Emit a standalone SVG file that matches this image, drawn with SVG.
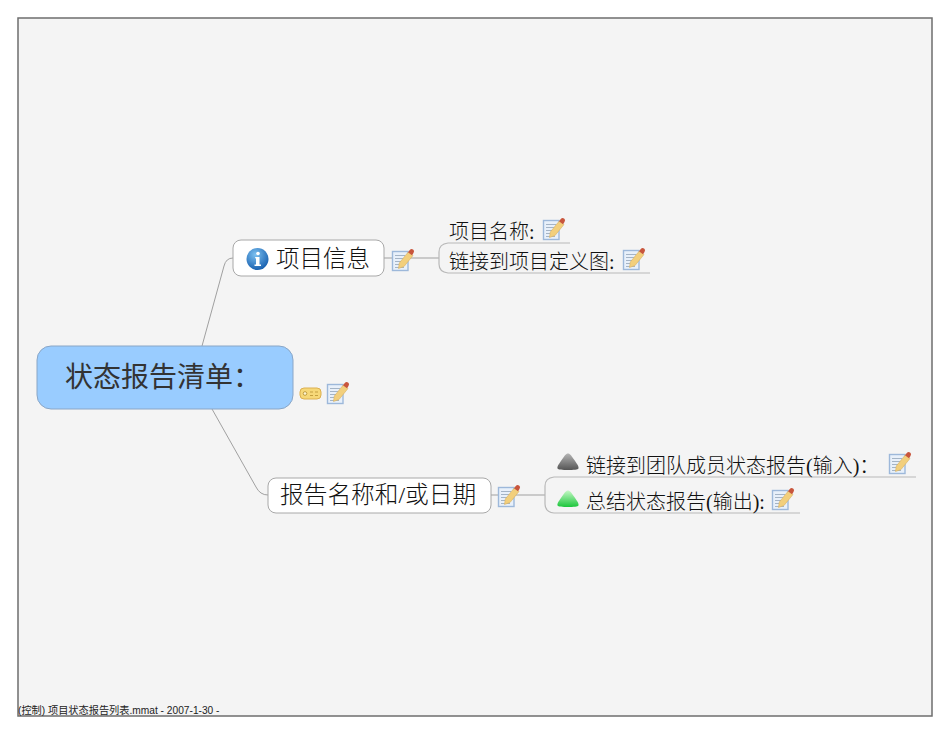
<svg xmlns="http://www.w3.org/2000/svg" width="950" height="735" viewBox="0 0 950 735">
<style>
.t{font-family:"Liberation Serif","Noto Sans CJK SC",serif;fill:#111;font-weight:300}
.box{fill:#fff;stroke:#a8a8a8;stroke-width:1}
.c{fill:none;stroke:#a0a0a0;stroke-width:1}
.u{fill:none;stroke:#b8b8b8;stroke-width:1.2}
</style>
<defs>
<linearGradient id="sg" x1="0" y1="0" x2="0" y2="1"><stop offset="0" stop-color="#b4b4b4"/><stop offset="1" stop-color="#555"/></linearGradient>
<linearGradient id="gg" x1="0" y1="0" x2="0" y2="1"><stop offset="0" stop-color="#c4f8c4"/><stop offset="1" stop-color="#1cc63c"/></linearGradient>
<radialGradient id="ig" cx="0.4" cy="0.3" r="0.8"><stop offset="0" stop-color="#7cc0f0"/><stop offset="1" stop-color="#0c55a8"/></radialGradient>
<g id="note">
<rect x="0.500" y="2.500" width="15.500" height="19" fill="#e8f0fa" stroke="#9db8da" stroke-width="1.400"/>
<path d="M3 6.500h10M3 9.500h10M3 12.500h6M3 15.500h4M3 18.500h9" stroke="#a4b4c6" stroke-width="1"/>
<path d="M6.500 19.500l.8-5.500 9-11 4.700 3.500-9 11z" fill="#f2cf7c" stroke="#d8b060" stroke-width="0.600"/>
<path d="M16 3.300l1.800-2.300a2.300 2.300 0 0 1 3.700 2.900l-1.500 2.400z" fill="#c8553c"/>
</g>
<g id="tri"><path d="M11 .5C12.500 .5 14 2 17 6.500C20 11 22 13 21.500 15.500C21 17.500 1 17.500 .5 15.500C0 13 2 11 5 6.500C8 2 9.500 .5 11 .5z"/></g>
</defs>
<rect x="0" y="0" width="950" height="735" fill="#fff"/>
<rect x="18" y="18" width="914" height="698" fill="#f4f4f4" stroke="#6e6e6e" stroke-width="1.500"/>
<g id="connectors">
<path class="c" d="M202 346L224 266Q226 258 233 258"/>
<path class="c" d="M212 409L256 487Q260 495 268 495"/>
<path class="c" d="M384 258H439"/>
<path class="c" d="M491 495H545"/>
<path class="u" d="M570 243H448Q439 244 439 252V264Q439 272 448 273H650"/>
<path class="u" d="M916 477H554Q545 478 545 486V504Q545 512 554 513H800"/>
</g>
<g id="root">
<rect x="37" y="346" width="256" height="63" rx="14" fill="#99ccff" stroke="#8aa6c6" stroke-width="1"/>
<text class="t" x="65" y="387" font-size="28" style="fill:#333;font-weight:400">状态报告清单：</text>
<g transform="translate(300,388)">
<rect x="0" y="0" width="21" height="11" rx="4" fill="#f6d878" stroke="#dcb050"/>
<circle cx="5" cy="5.500" r="1.800" fill="#fff6d0" stroke="#a88020" stroke-width="0.700"/>
<path d="M10 4h3M15 4h3M10 7.500h3M15 7.500h3" stroke="#c4a040" stroke-width="1"/>
</g>
<use href="#note" x="327" y="382"/>
</g>
<g id="node-info">
<rect class="box" x="233" y="240" width="151" height="36" rx="8"/>
<circle cx="257.500" cy="259" r="11" fill="url(#ig)"/>
<circle cx="258" cy="253.500" r="1.800" fill="#fff"/>
<path d="M255 257h4.500v7.500h1.500v1.500h-6.500v-1.500h1.500v-6h-.5z" fill="#fff"/>
<text class="t" x="276" y="267" font-size="23.500">项目信息</text>
<use href="#note" x="392" y="249"/>
</g>
<g id="node-name">
<text class="t" x="449" y="239" font-size="20">项目名称:</text>
<use href="#note" x="543" y="218"/>
</g>
<g id="node-link">
<text class="t" x="449" y="269" font-size="20">链接到项目定义图:</text>
<use href="#note" x="623" y="248"/>
</g>
<g id="node-report">
<rect class="box" x="268" y="478" width="223" height="35" rx="8"/>
<text class="t" x="280" y="503" font-size="23.700">报告名称和/或日期</text>
<use href="#note" x="498" y="485"/>
</g>
<g id="node-input">
<use href="#tri" x="557" y="453" fill="url(#sg)"/>
<text class="t" x="586" y="473" font-size="20">链接到团队成员状态报告(输入)：</text>
<use href="#note" x="889" y="452"/>
</g>
<g id="node-output">
<use href="#tri" x="557" y="490" fill="url(#gg)"/>
<text class="t" x="586" y="509" font-size="20">总结状态报告(输出):</text>
<use href="#note" x="772" y="488"/>
</g>
<text id="footer" x="18" y="714" font-size="10.200" font-family="'Liberation Sans','Noto Sans CJK SC',sans-serif" fill="#222">(控制) 项目状态报告列表.mmat - 2007-1-30 -</text>
</svg>
